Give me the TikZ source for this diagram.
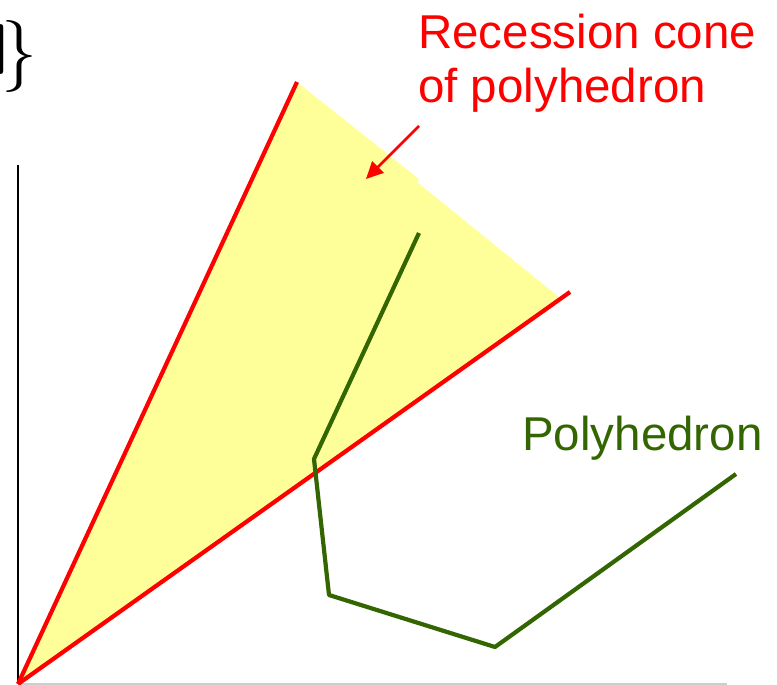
\documentclass[tikz,border=0pt]{standalone}
\usepackage{fontspec}
\newfontfamily\labelfont{Liberation Sans}
\usetikzlibrary{arrows.meta,positioning}
\definecolor{conered}{RGB}{255,0,0}
\definecolor{coneyellow}{RGB}{255,255,153}
\definecolor{polygreen}{RGB}{51,102,0}
\definecolor{axisgray}{RGB}{205,205,205}

\begin{document}
\begin{tikzpicture}[x=1pt,y=-1pt,
		ray/.style={draw=conered,line width=4.2pt},
		edge/.style={draw=polygreen,line width=4.2pt,line join=round},
		lbl/.style={inner sep=0pt,font=\labelfont\fontsize{47.5}{54}\selectfont}]
	\useasboundingbox (0,0) rectangle (777,685);

	% cone
	\coordinate (O) at (18,684);
	\coordinate (A) at (297,82);
	\coordinate (B) at (570,292);
	\coordinate (N1) at (419,179);
	\coordinate (N2) at (417,182);
	\coordinate (Bf) at (560,298);
	\fill[coneyellow] (O) -- (A) -- (N1) -- (N2) -- (Bf) -- cycle;

	% axes
	\coordinate (Ytop) at (18,165);
	\coordinate (Xend) at (727,684);
	\draw[black,line width=1.5pt] (Ytop) -- (O);
	\draw[axisgray,line width=2pt] (O) -- (Xend);

	\draw[ray] (O) -- (A);
	\draw[ray] (O) -- (B);

	% polyhedron
	\coordinate (P1) at (419,233);
	\coordinate (P2) at (314,459);
	\coordinate (P3) at (329,595);
	\coordinate (P4) at (495,647);
	\coordinate (P5) at (736,474);
	\draw[edge] (P1) -- (P2) -- (P3) -- (P4) -- (P5);

	% labels
	\node[lbl,conered,anchor=north west,align=left] (cone) at (418,14) {Recession cone\\of polyhedron};
	\coordinate (tail) at (419,126);
	\coordinate (head) at (366,179);
	\draw[conered,line width=2.5pt,-{Triangle[length=17pt,width=16pt]}] (tail) -- (head);
	\node[lbl,polygreen,anchor=base west] (poly) at (522,450) {Polyhedron};

	\node[inner sep=0pt,anchor=base east,font=\fontsize{72}{74}\selectfont] (set) at (38,75) {{\sffamily\bfseries I}\kern-9pt\}};
\end{tikzpicture}
\end{document}
